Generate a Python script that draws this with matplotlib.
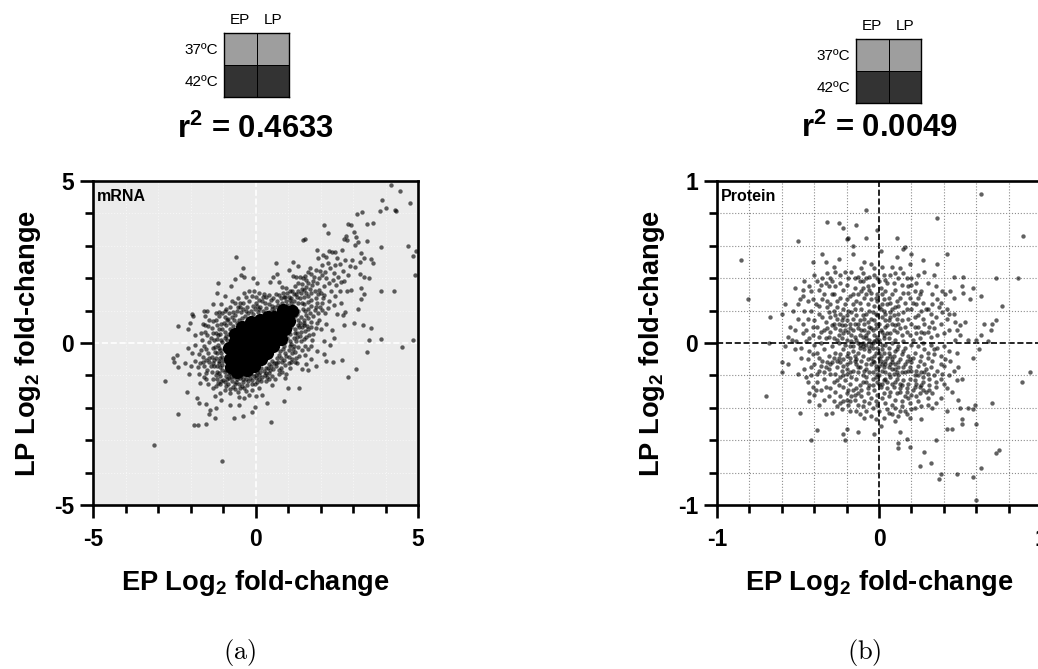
import numpy as np
import matplotlib
matplotlib.use("Agg")
import matplotlib.pyplot as plt

W, H = 1038, 669

# values; the black centre of the mRNA cloud cannot be
# split into single points, so it is kept as a few coarse spots (mrna_core)
mrna_points = [
    (4.16,4.89),(4.45,4.70),(4.75,4.33),(3.89,4.42),(4.01,4.16),(3.84,4.06),(4.29,4.09),(4.33,4.08),
    (3.28,4.04),(3.13,3.99),(3.62,3.70),(3.42,3.68),(2.86,3.68),(2.95,3.64),(2.10,3.64),(2.23,3.38),
    (3.03,3.42),(3.10,3.27),(2.78,3.31),(2.73,3.21),(2.80,3.19),(3.43,3.16),(3.14,3.13),(1.52,3.21),
    (1.45,3.17),(3.07,3.02),(3.86,2.96),(4.68,2.99),(4.95,2.83),(4.84,2.70),(4.91,2.11),(-0.61,2.65),
    (-0.40,2.30),(3.87,1.62),(4.26,1.59),(4.85,0.08),(4.52,-0.12),(3.86,0.11),(3.50,0.08),(3.44,-0.29),
    (3.54,0.47),(3.30,0.56),(3.02,0.61),(2.73,0.57),(3.09,-0.80),(2.86,-1.06),(2.67,-0.52),(2.38,-0.60),
    (-3.11,-3.16),(-1.02,-3.63),(-2.80,-1.16),(-2.40,-2.20),(-1.89,-2.54),(-1.78,-2.54),(-1.53,-2.49),
    (0.48,-2.45),(-0.65,-2.30),(-0.38,-2.24),(-0.10,-2.12),(-0.02,-1.99),(-1.25,-2.30),(-1.44,-2.18),
    (-1.39,-2.06),(-1.22,-2.01),(-1.73,-1.86),(-1.53,-1.87),(-1.81,-1.69),(-2.12,-1.52),(-2.40,0.52),
    (-2.53,-0.46),(-2.43,-0.38),(-2.50,-0.59),(-2.38,-0.74),(-2.18,-0.62),(-2.09,-0.14),(-2.08,0.43),
    (-2.01,0.61),(-1.95,0.90),(-1.93,0.84),(-1.60,0.98),(-1.50,1.00),(-1.55,0.82),(-1.32,1.20),(-1.15,1.85),
    (-1.20,1.55),(-0.95,1.45),(-0.75,1.75),(-0.62,1.97),(-0.45,2.10),(-0.35,2.05),(-0.08,2.00),(0.05,1.85),
    (-0.90,1.05),(-1.05,1.20),(-0.72,1.30),(-0.55,1.40),(-0.35,1.55),(-0.20,1.62),(-0.05,1.60),(0.12,1.55),
    (0.25,1.52),(0.46,1.89),(0.54,2.05),(0.67,2.13),(0.73,1.89),(0.80,1.74),(0.95,1.69),(0.63,2.46),
    (1.03,2.24),(1.16,2.49),(1.32,2.39),(1.68,2.30),(1.86,2.25),(1.16,2.07),(1.26,2.05),(1.36,2.03),
    (1.47,2.00),(1.80,2.05),(1.95,2.00),(2.05,2.10),(1.92,2.62),(1.90,2.88),(2.08,2.72),(2.18,2.65),
    (2.25,2.85),(2.35,2.82),(2.45,2.80),(2.52,2.62),(2.65,2.88),(2.75,2.55),(2.90,2.38),(2.98,2.55),
    (3.25,2.78),(3.35,2.62),(3.20,2.50),(3.55,2.60),(3.60,2.48),(3.05,2.35),(2.60,2.45),(2.45,2.42),
    (2.30,2.30),(2.15,2.20),(2.40,2.15),(2.70,2.22),(2.55,2.05),(2.85,2.10),(3.20,2.12),(3.35,2.05),
    (3.50,2.00),(2.38,1.95),(2.10,1.75),(2.25,1.85),(1.95,1.65),(1.75,1.78),(1.55,1.72),(1.40,1.55),
    (1.60,1.45),(1.85,1.40),(2.05,1.25),(2.25,1.30),(2.45,1.45),(2.60,1.62),(2.80,1.60),(2.95,1.65),
    (3.25,1.70),(3.35,1.50),(3.25,1.35),(3.15,1.05),(2.75,0.95),(2.70,0.85),(2.15,0.92),(1.95,0.72),
    (2.18,0.60),(2.35,0.40),(2.40,0.15),(2.10,0.05),(2.30,-0.05),(1.85,0.45),(1.65,0.25),(1.50,0.55),
    (1.75,0.10),(1.60,-0.20),(1.90,-0.25),(2.10,-0.35),(1.35,-0.40),(1.70,-0.50),(1.85,-0.70),(1.55,-0.65),
    (1.42,-0.80),(1.20,-0.60),(1.05,-0.78),(0.95,-0.95),(0.72,-0.95),(0.60,-1.10),(1.00,-1.40),(1.33,-1.38),
    (0.90,-1.08),(0.35,-1.05),(0.50,-1.30),(0.10,-1.40),(0.20,-1.60),(0.00,-1.65),(0.88,-1.80),(0.35,-1.85),
    (-0.20,-1.60),(-0.35,-1.40),(-0.55,-1.52),(-0.35,-1.70),(-0.52,-1.68),(-0.80,-1.90),(-0.50,-1.92),
    (-0.78,-1.55),(-0.95,-1.45),(-1.10,-1.55),(-1.30,-1.40),(-1.25,-1.65),(-1.05,-1.75),(-1.45,-1.25),
    (-1.60,-1.05),(-1.75,-0.95),(-2.05,-0.95),(-2.00,-0.70),(-1.85,-0.55),(-1.95,-0.30),(-1.75,-0.35),
    (-1.85,-0.05),(-1.60,-0.70),(-1.42,-0.60),(-1.35,-0.90),(-1.20,-1.10),(-1.45,-0.30),(-1.60,-0.10),
    (-1.30,-0.15),(-1.65,0.10),(-1.85,0.25),(-1.55,0.35),(-1.35,0.45),(-1.20,0.55),(-1.05,0.60),(-1.38,0.15),
    (-1.15,0.25),(-1.22,-0.45),(-1.10,-0.75),(-1.00,-1.15),(-0.85,-1.25),(-0.70,-1.35),(-0.60,-1.20),
    (-0.40,-1.20),(-0.25,-1.30),(-0.10,-1.15),(0.05,-1.20),(0.20,-1.05),(-1.05,-0.30),(-1.15,-0.05),
    (-1.05,0.10),(-0.95,0.35),(-0.85,0.75),(-0.70,0.95),(-0.55,1.10),(-0.40,1.25),(-0.20,1.30),(0.00,1.25),
    (0.20,1.30),(0.40,1.20),(0.55,1.40),(0.65,1.30),(0.85,1.55),(1.05,1.60),(1.20,1.75),(1.30,1.85),
    (1.10,1.40),(1.30,1.25),(1.50,1.20),(1.70,1.15),(1.85,1.10),(1.55,0.85),(1.70,0.65),(1.40,0.35),
    (1.25,0.05),(1.40,0.05),(1.15,-0.20),(0.95,-0.40),(0.80,-0.60),(0.55,-0.80),(0.25,-0.85),(1.55,1.95),
    (1.62,1.85),(1.78,1.92),(1.90,1.85),(2.02,1.55),(1.72,1.55),(1.50,1.65),(1.25,1.50),(0.95,1.30),
    (0.72,1.05),(0.40,0.95),(0.10,1.05),(-0.15,1.00),(-0.45,0.95),(-0.65,0.70),(-0.90,0.55),(-0.95,-0.90),
    (-0.75,-1.05),(-0.45,-1.02),(-0.15,-0.95),(0.05,-0.90),(0.40,-0.65),(0.65,-0.45),(0.85,-0.20),(1.05,0.05),
    (1.20,0.30),(1.30,0.55),(1.40,0.80),(1.30,1.00),(1.15,1.15),(0.92,1.10),(1.60,1.05),(1.45,1.05),
    (1.05,-0.10),(0.90,0.02),(0.75,-0.25),(0.50,-0.55),(-0.10,-0.75),(-0.95,0.15),(-1.00,-0.55),(-0.95,0.80),
    (-1.28,-0.72),(-1.18,-0.88),(-1.08,-1.02),(-1.13,-0.62),(-1.02,-0.82),(-0.92,-1.02),(-0.88,-1.12),(-0.82,-0.95),
    (-0.72,-1.18),(-0.65,-1.05),(-0.58,-1.12),(-0.52,-1.25),(-0.48,-1.08),(-0.38,-1.12),(-0.32,-0.98),(-0.28,-1.10),
    (-0.18,-1.08),(-0.12,-1.28),(-0.05,-1.02),(0.02,-1.08),(0.12,-0.98),(0.18,-1.18),(0.28,-0.98),(0.32,-0.78),
    (0.42,-0.92),(0.48,-0.72),(0.62,-0.72),(0.68,-0.58),(0.78,-0.78),(0.88,-0.52),(0.92,-0.68),(1.02,-0.42),
    (1.08,-0.58),(1.12,-0.32),(1.22,-0.28),(1.18,-0.08),(1.32,-0.12),(1.28,0.18),(1.38,0.22),(1.48,0.12),
    (1.52,0.38),(1.42,0.48),(1.58,0.52),(1.48,0.72),(1.62,0.78),(1.52,0.98),(1.68,0.92),(1.78,0.82),
    (1.72,1.32),(1.62,1.28),(1.88,1.22),(1.42,1.22),(1.38,1.38),(1.48,1.42),(1.28,1.42),(1.18,1.30),
    (1.08,1.25),(1.02,1.42),(0.92,1.42),(0.82,1.22),(0.78,1.38),(0.68,1.18),(0.60,1.12),(0.50,1.15),
    (0.48,1.32),(0.32,1.08),(0.30,1.22),(0.22,0.98),(0.15,1.12),(0.05,1.15),(-0.02,1.05),(-0.08,1.15),
    (-0.25,1.12),(-0.30,0.98),(-0.38,1.05),(-0.48,1.12),(-0.58,0.98),(-0.62,0.85),(-0.72,0.80),(-0.78,0.62),
    (-0.82,0.92),(-0.88,0.70),(-0.98,0.62),(-1.02,0.42),(-1.12,0.42),(-1.08,0.28),(-1.22,0.32),(-1.28,0.08),
    (-1.18,0.12),(-1.12,-0.15),(-1.25,-0.28),(-1.35,-0.42),(-1.28,-0.52),(-1.38,-0.72),(-1.48,-0.82),(-1.52,-0.52),
    (-1.62,-0.42),(-1.52,-0.18),(-1.42,0.02),(-1.48,0.25),(-1.30,0.32),(-1.22,0.72),(-1.12,0.82),(-1.32,0.68),
    (-1.62,0.60),(-1.78,-0.75),(-1.70,-1.22),(-1.52,-1.12),(-1.22,-1.32),(-1.08,-1.28),(-0.92,-1.32),(-0.78,-1.42),
    (-0.62,-1.42),(-0.48,-1.38),(-0.30,-1.48),(-0.12,-1.45),(-1.68,-0.22),(-1.02,0.92),(0.32,1.42),(0.12,1.32),
    (0.58,0.98),(0.72,0.88),(0.85,1.02),(0.98,1.18),(1.12,0.98),(1.20,0.82),(1.10,0.62),(1.22,0.42),
    (1.05,0.28),(0.98,0.15),(0.88,-0.08),(0.72,-0.38),(0.58,-0.62),(0.38,-0.78),(0.18,-0.78),(-0.28,-0.85),
    (-0.52,-0.92),(-0.68,-0.92),(-0.85,-0.72),(-0.92,-0.48),(-0.98,-0.18),(-0.88,0.08),(-0.82,0.28),(-0.68,0.52),
    (-0.52,0.72),(-0.32,0.82),(-0.08,0.88),(0.18,0.82),(0.35,0.82),(0.82,0.15),(0.98,0.38),(1.08,0.48),
    (2.05,1.02),(2.22,1.08),(2.02,0.42),(1.72,-0.08),(2.18,-0.55),(1.52,-0.38),(1.28,-0.62),(1.62,-0.82),
    (2.52,0.88),(2.62,1.22),(2.42,1.18),(2.12,1.48),(2.32,1.62),(2.48,1.78),(2.62,1.88),(2.72,1.92),
    (2.05,2.42),(2.22,2.48),(1.98,2.22),(2.18,2.02),(1.72,2.12),(1.62,2.18),(1.52,2.08),(1.42,1.82),
    (-1.18,-0.32),(-1.24,-0.12),(-1.10,-0.45),(-1.32,-0.62),(-1.42,-0.45),(-1.20,-0.72),(-1.12,-0.92),(-1.22,-1.00),
    (-1.05,-1.18),(-0.95,-1.20),(-0.82,-1.08),(-0.62,-1.28),(-0.42,-1.32),(-0.22,-1.18),(-0.02,-1.28),(0.12,-1.12),
    (0.32,-1.18),(0.42,-1.12),(0.52,-1.02),(0.72,-0.82),(0.82,-0.88),(1.02,-0.62),(1.12,-0.48),(1.25,-0.45),
    (1.42,-0.22),(1.52,-0.08),(1.55,0.18),(1.62,0.42),(1.72,0.48),(1.78,0.28),(1.88,0.62),(1.92,0.92),
    (1.82,1.02),(1.98,1.12),(2.08,1.38),(1.92,1.52),(1.82,1.62),(1.68,1.68),(1.55,1.55),(1.42,1.68),
    (1.32,1.62),(1.18,1.52),(1.12,1.62),(0.98,1.55),(0.88,1.42),(0.72,1.48),(0.62,1.52),(0.42,1.48),
    (0.22,1.42),(0.02,1.42),(-0.12,1.45),(-0.28,1.42),(-0.48,1.25),(-0.62,1.22),(-0.78,1.12),(-0.95,0.98),
    (-1.12,0.95),(-1.22,0.92),(-1.42,0.72),(-1.45,0.52),(-1.55,0.55),(-1.68,0.32),(-1.62,-0.58),(-1.72,-0.62),
    (-1.52,-0.92),(-1.32,-1.12),(-1.15,-1.22),(1.32,0.72),(1.38,0.62),(1.28,0.88),(1.18,1.05),(1.05,1.32),
    (0.78,1.12),(0.52,1.05),(0.28,0.92),(0.08,0.95),(-0.22,0.92),(-0.42,0.78),(-0.58,0.62),(-0.78,0.42),
    (-0.92,0.22),(-1.02,0.02),(-1.08,-0.22),(-1.02,-0.42),(-1.12,-0.55),(-1.02,-0.68),(-0.92,-0.82),(-0.78,-0.92),
    (-0.62,-0.98),(-0.42,-0.95),(-0.22,-0.98),(0.02,-0.98),(0.15,-0.88),(0.32,-0.92),(0.45,-0.82),(0.62,-0.62),
    (0.78,-0.45),(0.92,-0.32),(1.02,-0.22),(1.10,-0.02),(1.18,0.15),(1.28,0.32),(1.35,0.48),(1.48,0.62),
]
mrna_core = [
    (-0.75,-0.75),(-0.55,-0.60),(-0.35,-0.40),(-0.15,-0.20),(0.00,0.00),(0.20,0.15),(0.40,0.30),(0.60,0.50),
    (0.80,0.70),(1.00,0.92),(-0.68,-0.30),(-0.50,-0.12),(-0.30,0.08),(-0.10,0.28),(0.12,0.42),(0.32,0.58),
    (0.58,0.80),(-0.42,-0.78),(-0.22,-0.62),(-0.02,-0.45),(0.18,-0.28),(0.38,-0.08),(0.58,0.14),(0.78,0.35),
    (-0.72,-0.50),(-0.40,0.30),(-0.18,0.48),(0.02,0.55),(0.18,-0.50),(-0.62,0.05),(-0.82,-0.15),(-0.58,-0.88),
    (-0.78,-0.48),(-0.70,-0.72),(-0.25,-0.82),(-0.05,-0.70),(0.35,-0.32),(0.55,-0.08),(0.78,0.12),(0.92,0.42),
    (1.02,0.68),(1.12,0.98),(0.85,1.02),(0.38,0.80),(0.15,0.70),(-0.15,0.65),(-0.42,0.48),(-0.62,0.28),(0.95,0.72),
]
protein_points = [
    (0.63,0.92),(0.89,0.66),(-0.08,0.82),(-0.32,0.75),(-0.25,0.74),(-0.14,0.73),(0.36,0.77),(-0.22,0.71),
    (-0.01,0.70),(-0.50,0.63),(-0.85,0.51),(-0.81,0.27),(-0.20,0.64),(-0.19,0.65),(-0.08,0.65),(0.11,0.65),
    (-0.16,0.60),(-0.35,0.55),(-0.16,0.55),(0.15,0.58),(0.16,0.59),(0.01,0.57),(0.20,0.55),(0.42,0.55),
    (0.11,0.53),(0.27,0.51),(0.36,0.49),(0.19,0.49),(0.86,0.40),(0.72,0.40),(0.52,0.41),(0.46,0.41),
    (0.34,0.42),(0.76,0.23),(-0.58,0.24),(-0.60,0.18),(-0.67,0.16),(-0.68,0.00),(-0.70,-0.33),(-0.60,-0.12),
    (-0.60,-0.18),(-0.56,-0.13),(-0.50,-0.19),(-0.49,-0.43),(-0.43,-0.36),(-0.42,-0.60),(-0.38,-0.54),
    (-0.22,-0.56),(-0.21,-0.60),(-0.20,-0.53),(-0.13,-0.55),(-0.03,-0.56),(0.01,-0.51),(0.13,-0.55),
    (0.17,-0.59),(0.12,-0.62),(0.12,-0.65),(0.19,-0.64),(0.28,-0.67),(0.25,-0.76),(0.32,-0.74),(0.38,-0.81),
    (0.37,-0.84),(0.48,-0.81),(0.58,-0.83),(0.63,-0.77),(0.60,-0.97),(0.72,-0.68),(0.74,-0.66),(0.60,-0.50),
    (0.51,-0.47),(0.51,-0.50),(0.42,-0.53),(0.45,-0.53),(0.35,-0.60),(0.70,-0.37),(0.59,-0.38),(0.58,-0.41),
    (0.55,-0.40),(0.49,-0.35),(0.50,-0.40),(0.88,-0.24),(0.93,-0.18),(0.62,-0.04),(0.58,-0.09),(0.49,-0.15),
    (0.48,-0.23),(0.51,-0.22),(0.26,-0.47),(0.70,0.12),(0.72,0.14),(0.65,0.12),(0.69,0.08),(0.63,0.05),
    (0.67,0.01),(0.55,0.02),(0.60,0.02),(0.53,0.13),(0.50,0.11),(0.47,0.13),(0.48,0.08),(0.50,0.05),
    (0.47,0.02),(0.42,0.15),(0.43,0.08),(0.56,0.27),(0.63,0.29),(0.58,0.34),(0.52,0.31),(0.51,0.35),
    (0.46,0.28),(0.44,0.32),(0.41,0.30),(0.39,0.32),(0.36,0.27),(0.42,0.21),(0.43,0.18),(0.39,0.19),
    (0.35,0.16),(0.33,0.13),(0.31,0.10),(0.36,0.05),(0.30,0.07),(0.28,0.12),(0.26,0.07),(0.25,0.03),
    (0.22,0.10),(0.30,0.21),(0.29,0.21),(0.26,0.20),(0.24,0.17),(0.25,0.30),(0.26,0.32),(0.30,0.37),
    (0.20,0.36),(0.20,0.40),(0.18,0.35),(0.17,0.40),(0.12,0.40),(0.13,0.46),(0.07,0.42),(0.05,0.37),
    (0.03,0.42),(0.00,0.38),(-0.03,0.42),(-0.03,0.46),(-0.08,0.40),(-0.10,0.43),(-0.09,0.50),(-0.17,0.44),
    (-0.19,0.40),(-0.24,0.42),(-0.28,0.47),(-0.27,0.44),(-0.32,0.43),(-0.35,0.40),(-0.38,0.38),(-0.46,0.38),
    (-0.47,0.33),(-0.47,0.29),(-0.42,0.32),(-0.37,0.33),(-0.34,0.30),(-0.27,0.35),(-0.22,0.33),(-0.24,0.28),
    (-0.30,0.24),(-0.35,0.27),(-0.39,0.24),(-0.42,0.20),(-0.37,0.18),(-0.47,0.12),(-0.50,0.15),(-0.45,0.08),
    (-0.41,0.05),(-0.38,0.10),(-0.33,0.13),(-0.30,0.16),(-0.28,0.20),(-0.25,0.12),(-0.22,0.16),(-0.19,0.20),
    (-0.16,0.24),(-0.13,0.30),(-0.10,0.34),(-0.05,0.31),(-0.01,0.30),(0.04,0.32),(0.08,0.30),(0.13,0.28),
    (0.16,0.25),(0.19,0.28),(0.20,0.21),(0.15,0.19),(0.10,0.22),(0.05,0.24),(0.01,0.21),(-0.03,0.23),
    (-0.07,0.24),(-0.11,0.21),(-0.14,0.17),(-0.18,0.12),(-0.21,0.08),(-0.25,0.05),(-0.30,0.07),(-0.33,0.03),
    (-0.36,0.00),(-0.40,-0.01),(-0.45,0.01),(-0.51,0.01),(-0.54,0.02),(-0.48,-0.03),(-0.43,-0.05),(-0.38,-0.06),
    (-0.34,-0.04),(-0.29,-0.02),(-0.25,0.00),(-0.20,0.02),(-0.17,0.05),(-0.13,0.09),(-0.09,0.12),(-0.05,0.15),
    (-0.02,0.12),(0.02,0.16),(0.06,0.14),(0.09,0.17),(0.12,0.12),(0.16,0.10),(0.19,0.05),(0.14,0.05),
    (0.09,0.08),(0.05,0.06),(0.01,0.08),(-0.03,0.05),(-0.07,0.07),(-0.10,0.04),(-0.14,0.02),(-0.18,-0.02),
    (-0.22,-0.04),(-0.27,-0.06),(-0.31,-0.08),(-0.35,-0.11),(-0.40,-0.13),(-0.44,-0.10),(-0.46,-0.16),
    (-0.42,-0.20),(-0.37,-0.17),(-0.33,-0.15),(-0.29,-0.12),(-0.25,-0.09),(-0.20,-0.08),(-0.16,-0.05),
    (-0.12,-0.03),(-0.08,-0.01),(-0.04,0.00),(0.00,0.02),(0.04,-0.01),(0.08,0.00),(0.12,-0.02),(0.16,-0.03),
    (0.20,-0.01),(0.24,-0.02),(0.28,-0.04),(0.32,-0.01),(0.36,-0.03),(0.40,-0.02),(0.43,-0.05),(0.38,-0.08),
    (0.34,-0.07),(0.30,-0.09),(0.26,-0.08),(0.22,-0.06),(0.18,-0.08),(0.14,-0.07),(0.10,-0.05),(0.06,-0.06),
    (0.02,-0.04),(-0.02,-0.06),(-0.06,-0.05),(-0.10,-0.08),(-0.14,-0.10),(-0.18,-0.12),(-0.22,-0.14),
    (-0.26,-0.15),(-0.30,-0.19),(-0.34,-0.22),(-0.38,-0.24),(-0.41,-0.27),(-0.40,-0.32),(-0.36,-0.29),
    (-0.33,-0.27),(-0.28,-0.24),(-0.24,-0.21),(-0.20,-0.19),(-0.16,-0.17),(-0.12,-0.15),(-0.08,-0.13),
    (-0.04,-0.11),(0.00,-0.09),(0.04,-0.11),(0.08,-0.10),(0.12,-0.12),(0.16,-0.13),(0.20,-0.12),(0.24,-0.14),
    (0.28,-0.13),(0.32,-0.15),(0.36,-0.17),(0.40,-0.14),(0.44,-0.11),(0.43,-0.20),(0.38,-0.22),(0.34,-0.20),
    (0.30,-0.19),(0.26,-0.18),(0.22,-0.20),(0.18,-0.17),(0.14,-0.18),(0.10,-0.16),(0.06,-0.15),(0.02,-0.17),
    (-0.02,-0.16),(-0.06,-0.18),(-0.10,-0.20),(-0.14,-0.22),(-0.18,-0.25),(-0.22,-0.27),(-0.27,-0.30),
    (-0.31,-0.33),(-0.28,-0.36),(-0.24,-0.33),(-0.20,-0.31),(-0.16,-0.29),(-0.12,-0.26),(-0.08,-0.24),
    (-0.04,-0.22),(0.00,-0.20),(0.03,-0.23),(0.07,-0.21),(0.11,-0.22),(0.15,-0.23),(0.19,-0.22),(0.23,-0.25),
    (0.27,-0.24),(0.31,-0.26),(0.35,-0.27),(0.40,-0.25),(0.42,-0.28),(0.33,-0.31),(0.29,-0.30),(0.25,-0.31),
    (0.21,-0.29),(0.17,-0.28),(0.13,-0.30),(0.09,-0.27),(0.05,-0.28),(0.01,-0.27),(-0.03,-0.29),(-0.07,-0.31),
    (-0.11,-0.33),(-0.15,-0.35),(-0.19,-0.38),(-0.23,-0.41),(-0.29,-0.43),(-0.33,-0.44),(-0.14,-0.42),
    (-0.10,-0.39),(-0.06,-0.37),(-0.02,-0.36),(0.02,-0.34),(0.06,-0.33),(0.10,-0.35),(0.14,-0.36),(0.18,-0.34),
    (0.24,-0.36),(0.30,-0.34),(0.38,-0.34),(0.30,-0.38),(0.22,-0.40),(0.16,-0.42),(0.10,-0.40),(0.05,-0.41),
    (0.00,-0.42),(-0.05,-0.45),(-0.02,-0.47),(0.03,-0.46),(0.08,-0.44),(0.12,-0.45),(0.17,-0.44),(0.19,-0.46),
    (-0.09,-0.46),(-0.12,-0.44),(0.35,-0.37),(0.42,-0.42),(0.10,-0.48),
    (-0.08,0.18),(-0.02,0.18),(0.04,0.10),(-0.06,0.10),(-0.12,0.14),(-0.04,-0.03),(0.00,-0.06),(0.03,0.03),
    (-0.10,-0.02),(-0.06,0.02),(0.02,-0.13),(-0.02,-0.14),(0.06,-0.03),(0.10,-0.13),(-0.15,0.12),(-0.20,0.14),
    (-0.24,0.18),(-0.16,0.08),(-0.19,-0.06),(-0.13,-0.06),(0.07,0.19),(0.12,0.18),(-0.01,0.26),(-0.05,0.27),
    (0.09,-0.19),(0.13,-0.25),(0.05,-0.24),(-0.01,-0.24),(-0.05,-0.09),(0.15,0.01),(-0.27,0.09),(-0.23,0.11),
    (-0.31,0.35),(-0.29,0.30),(-0.26,0.26),(-0.21,0.24),(-0.18,0.29),(-0.15,0.34),(-0.12,0.38),(-0.07,0.35),
    (-0.04,0.36),(0.01,0.34),(0.06,0.28),(0.10,0.33),(0.15,0.31),(0.03,0.27),(-0.09,0.28),(-0.17,0.19),
    (-0.12,0.25),(-0.06,0.20),(-0.01,0.17),(0.03,0.20),(0.08,0.12),(0.11,0.07),(0.14,0.14),(0.18,0.15),
    (0.22,0.16),(0.17,0.21),(0.23,0.24),(0.11,0.26),(-0.15,0.21),(-0.20,0.17),(-0.26,0.15),(-0.31,0.19),
    (-0.35,0.16),(-0.40,0.14),(-0.36,0.07),(-0.32,0.09),(-0.28,0.03),(-0.23,0.03),(-0.19,0.07),(-0.15,0.04),
    (-0.11,0.08),(-0.08,0.05),(-0.05,0.09),(-0.01,0.04),(0.02,0.07),(0.06,0.03),(0.10,0.02),(0.13,0.09),
    (0.17,0.07),(0.21,0.02),(0.27,0.00),(-0.12,-0.01),(-0.16,-0.02),(-0.21,-0.01),(-0.24,-0.07),(-0.28,-0.09),
    (-0.32,-0.12),(-0.37,-0.09),(-0.41,-0.07),(-0.36,-0.14),(-0.31,-0.16),(-0.27,-0.19),(-0.22,-0.10),(-0.18,-0.09),
    (-0.14,-0.13),(-0.11,-0.11),(-0.07,-0.10),(-0.03,-0.08),(0.01,-0.11),(0.05,-0.09),(0.09,-0.08),(0.13,-0.10),
    (0.17,-0.11),(0.21,-0.09),(0.25,-0.11),(0.29,-0.16),(0.33,-0.11),(0.27,-0.21),(0.23,-0.17),(0.19,-0.15),
    (0.15,-0.15),(0.11,-0.18),(0.07,-0.13),(0.03,-0.15),(-0.01,-0.19),(-0.05,-0.13),(-0.09,-0.17),(-0.13,-0.18),
    (-0.17,-0.21),(-0.21,-0.23),(-0.25,-0.26),(-0.19,-0.29),(-0.14,-0.28),(-0.10,-0.24),(-0.06,-0.26),(-0.02,-0.21),
    (0.02,-0.25),(0.06,-0.19),(0.10,-0.24),(0.14,-0.26),(0.18,-0.25),(0.22,-0.23),(0.25,-0.27),(0.20,-0.32),
    (0.16,-0.33),(0.11,-0.31),(0.07,-0.30),(0.03,-0.31),(-0.01,-0.32),(-0.05,-0.34),(-0.09,-0.36),(-0.13,-0.31),
    (-0.17,-0.33),(-0.22,-0.36),(-0.26,-0.39),(-0.18,-0.42),(-0.34,-0.35),(-0.37,-0.38),(-0.44,-0.24),(-0.48,-0.09),
    (-0.52,-0.04),(-0.56,0.04),(-0.52,0.08),(-0.46,0.20),(-0.50,0.24),(-0.52,0.34),(-0.40,0.42),(-0.33,0.50),
    (-0.41,0.50),(-0.25,0.52),(-0.28,0.30),(-0.22,0.21),(-0.11,0.46),(-0.05,0.49),(0.02,0.47),(0.08,0.47),
    (0.24,0.42),(0.28,0.44),(0.22,0.32),(0.33,0.24),(0.37,0.22),(0.32,0.04),(0.40,0.06),(0.38,0.12),
    (-0.08,0.30),(-0.14,0.26),(-0.03,0.14),(-0.09,0.08),(-0.12,0.05),(-0.16,0.15),(-0.21,0.11),(-0.24,0.08),
    (-0.04,-0.18),(-0.08,-0.21),(0.00,-0.14),(0.04,-0.18),(0.08,-0.16),(0.12,-0.20),(-0.04,0.08),(0.00,0.12),
    (0.04,0.14),(-0.02,0.09),(-0.07,0.13),(-0.10,0.17),(0.02,-0.01),(-0.02,0.02),(-0.06,-0.03),(-0.10,0.00),
    (-0.24,-0.12),(-0.20,-0.16),(-0.15,-0.08),(-0.28,0.12),(0.05,0.11),(0.11,0.15),(0.08,0.21),(0.02,0.24),
    (-0.26,0.22),(-0.32,0.26),(-0.23,0.14),(-0.27,0.17),(-0.18,0.09),(-0.13,0.12),(-0.09,0.15),(-0.04,0.19),
    (0.00,0.22),(0.04,0.18),(0.07,0.16),(0.10,0.11),(0.07,0.06),(0.03,0.05),(-0.03,0.01),(-0.08,0.03),
    (-0.13,-0.00),(-0.17,0.01),(-0.22,0.06),(-0.26,0.02),(-0.31,0.04),(-0.34,0.08),(-0.29,0.11),(-0.32,0.22),
    (-0.20,0.27),(-0.16,0.30),(-0.11,0.32),(-0.06,0.33),(-0.02,0.28),(0.02,0.30),(0.07,0.25),(0.12,0.23),
    (-0.09,-0.04),(-0.05,-0.01),(-0.01,-0.03),(0.03,-0.06),(0.07,-0.08),(0.11,-0.04),(0.15,-0.05),(0.19,-0.10),
    (-0.15,-0.11),(-0.20,-0.13),(-0.23,-0.17),(-0.18,-0.18),(-0.13,-0.15),(-0.08,-0.16),(-0.03,-0.12),(0.01,-0.08),
    (0.04,-0.13),(0.08,-0.12),(0.12,-0.15),(0.16,-0.18),(0.20,-0.17),(0.24,-0.20),(0.28,-0.18),(0.31,-0.22),
    (0.26,-0.26),(0.22,-0.27),(0.17,-0.30),(0.13,-0.28),(0.08,-0.25),(0.04,-0.22),(0.00,-0.25),(-0.04,-0.26),
    (-0.07,-0.28),(-0.11,-0.29),(-0.15,-0.32),(-0.20,-0.35),(-0.24,-0.37),(-0.30,-0.28),(-0.26,-0.23),(-0.22,-0.20),
    (-0.38,-0.19),(-0.34,-0.18),(-0.30,-0.13),(-0.26,-0.11),(-0.42,-0.15),(-0.45,-0.21),(-0.39,-0.29),(-0.43,-0.31),
    (-0.44,0.15),(-0.41,0.10),(-0.37,0.04),(-0.43,0.03),(-0.47,0.06),(-0.44,0.26),(-0.41,0.27),(-0.37,0.23),
    (-0.33,0.37),(-0.29,0.38),(-0.24,0.37),(-0.20,0.36),(-0.15,0.40),(-0.10,0.38),(-0.06,0.41),(-0.01,0.40),
    (0.04,0.39),(0.09,0.37),(0.14,0.36),(0.18,0.31),(0.24,0.28),(0.21,0.25),(0.27,0.25),(0.32,0.18),
    (0.27,0.15),(0.24,0.10),(0.20,0.12),(0.28,0.06),(0.23,0.06),(0.34,0.09),(0.34,-0.04),(0.30,-0.06),
    (0.38,-0.13),(0.35,-0.24),(0.39,-0.19),(0.41,-0.10),(0.31,-0.29),(0.27,-0.29),(0.23,-0.33),(0.19,-0.37),
    (0.14,-0.39),(0.08,-0.38),(0.04,-0.37),(-0.01,-0.38),(-0.04,-0.40),(-0.08,-0.42),(-0.13,-0.38),(-0.18,-0.36),
    (0.06,-0.43),(0.13,-0.42),(0.20,-0.41),(0.26,-0.39),(0.33,-0.40),(0.45,-0.30),(0.46,-0.17),(0.48,-0.06),
    (0.46,0.18),(0.38,0.25),(0.33,0.30),(0.35,0.35),(0.23,0.37),(0.15,0.43),(0.10,0.43),(-0.13,0.41),
    (-0.21,0.44),(-0.30,0.40),(-0.36,0.36),(-0.43,0.35),(-0.49,0.27),(-0.53,0.20),(-0.55,0.10),(-0.58,-0.02),
]
ep_lp_labels = ["EP", "LP"]
temp_labels = ["37ºC", "42ºC"]
heat_values = [[0.62, 0.62], [0.20, 0.20]]
r2_values = ["0.4633", "0.0049"]

plt.rcParams["font.family"] = ["Liberation Sans", "DejaVu Sans"]
plt.rcParams["mathtext.fontset"] = "custom"
plt.rcParams["mathtext.bf"] = "Liberation Sans:bold"
plt.rcParams["mathtext.rm"] = "Liberation Sans:bold"

fig = plt.figure(figsize=(W / 100, H / 100), dpi=100)


def px_axes(x0, y0, x1, y1):
    # pixel box of the reference, y counted from the top
    return fig.add_axes([x0 / W, 1 - y1 / H, (x1 - x0) / W, (y1 - y0) / H])


def panel(box, lim, major, minor, points, name, face, grid_color, grid_ls, zero_color, zero_ls):
    ax = px_axes(*box)
    ax.set_facecolor(face)
    ax.set_xlim(-lim, lim)
    ax.set_ylim(-lim, lim)
    ax.set_xticks(major)
    ax.set_yticks(major)
    ax.set_xticks(minor, minor=True)
    ax.set_yticks(minor, minor=True)
    ax.tick_params(which="major", length=9.5, width=1.9, labelsize=16.5, pad=4)
    ax.tick_params(axis="x", which="major", pad=7)
    ax.tick_params(which="minor", length=5.5, width=1.9)
    ax.set_xticklabels([str(v) for v in major], fontweight="bold")
    ax.set_yticklabels([str(v) for v in major], fontweight="bold")
    ax.grid(which="minor", color=grid_color, ls=grid_ls, lw=0.8, zorder=0)
    ax.axhline(0, color=zero_color, ls=zero_ls, lw=1.2, zorder=1)
    ax.axvline(0, color=zero_color, ls=zero_ls, lw=1.2, zorder=1)
    for s in ax.spines.values():
        s.set_linewidth(1.9)
    pts = np.array(points)
    ax.scatter(pts[:, 0], pts[:, 1], s=10, color="black", alpha=0.62, linewidths=0, zorder=3)
    ax.text(0.012, 0.952, name, transform=ax.transAxes, fontsize=11.5, fontweight="bold", va="center", zorder=4)
    return ax


ax1 = panel((93, 181, 418, 505), 5, [-5, 0, 5], [-4, -3, -2, -1, 1, 2, 3, 4], mrna_points, "mRNA",
            "#ebebeb", "#f6f6f6", ":", "white", "--")
core = np.array(mrna_core)
ax1.scatter(core[:, 0], core[:, 1], s=90, color="black", linewidths=0, zorder=2.5)

ax2 = panel((717, 181, 1041, 505), 1, [-1, 0, 1], [-0.8, -0.6, -0.4, -0.2, 0.2, 0.4, 0.6, 0.8],
            protein_points, "Protein", "white", "#8c8c8c", ":", "black", "--")

for ax in (ax1, ax2):
    ax.set_xlabel(r"EP Log$_{\mathbf{2}}$ fold-change", fontsize=19.6, fontweight="bold", labelpad=12)
    ax.set_ylabel(r"LP Log$_{\mathbf{2}}$ fold-change", fontsize=19.6, fontweight="bold", labelpad=8)

# condition boxes and r2 above each panel
for (x0, y0, cx, base), r2 in zip([(224, 33, 255, 138), (856, 39, 879, 137)], r2_values):
    hm = px_axes(x0, y0, x0 + 65, y0 + 64)
    hm.pcolormesh(heat_values, cmap="gray", vmin=0, vmax=1, edgecolors="black", linewidth=0.7)
    hm.invert_yaxis()
    hm.set_xticks([0.5, 1.5])
    hm.set_xticklabels(ep_lp_labels, fontsize=11)
    hm.set_yticks([0.5, 1.5])
    hm.set_yticklabels(temp_labels, fontsize=11)
    hm.xaxis.tick_top()
    hm.tick_params(length=0, pad=4)
    for s in hm.spines.values():
        s.set_linewidth(1.0)
    fig.text(cx / W, 1 - base / H, "r$^{\\mathbf{2}}$ = " + r2, fontsize=22.4, fontweight="bold", ha="center", va="baseline")

fig.text(240 / W, 1 - 652 / H, r"$\mathrm{(a)}$", math_fontfamily="cm", fontsize=19, ha="center", va="center")
fig.text(864 / W, 1 - 652 / H, r"$\mathrm{(b)}$", math_fontfamily="cm", fontsize=19, ha="center", va="center")

fig.savefig("out.png", dpi=100)
